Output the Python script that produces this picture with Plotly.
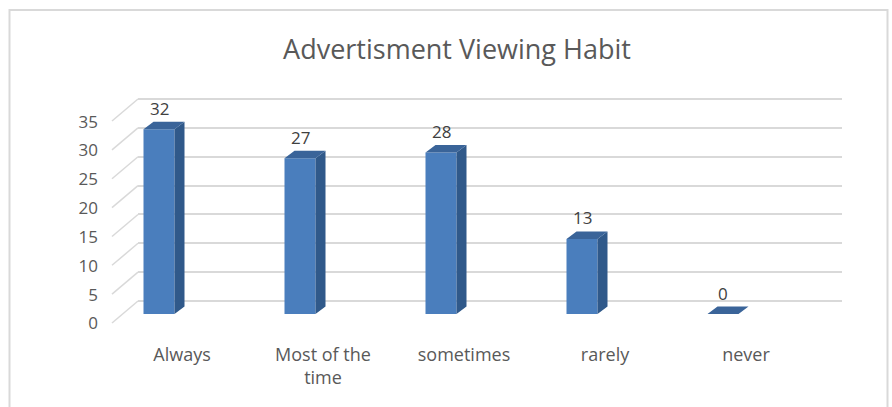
import plotly.graph_objects as go

# ---- data ----
categories = ["Always", "Most of the<br>time", "sometimes", "rarely", "never"]
counts = [32, 27, 28, 13, 0]
tick_values = [0, 5, 10, 15, 20, 25, 30, 35]
title_text = "Advertisment Viewing Habit"

# ---- geometry (pixels) ----
W, H = 892, 407
PX_L, PX_R = 138, 842      # back-wall width
PX_T, PX_B = 90, 330       # plot area top / bottom
SLOT = 141                 # pixels per category
X0_PX = 159                # centre of first category
BASE_PX = 314              # floor line under the bars
PPU = 5.77                 # pixels per value unit
WALL_LIFT = 13             # back wall sits this far above the bar base
FRONT_DROP = 22            # floor front edge below the back wall

x_rng = [(PX_L - X0_PX) / SLOT, (PX_R - X0_PX) / SLOT]
bar_rng = [(BASE_PX - PX_B) / PPU, (BASE_PX - PX_T) / PPU]
grid_off = WALL_LIFT / PPU
grid_rng = [bar_rng[0] - grid_off, bar_rng[1] - grid_off]
lab_off = (FRONT_DROP + 0.5 - WALL_LIFT) / PPU
lab_rng = [bar_rng[0] + lab_off, bar_rng[1] + lab_off]

BAR_W = 31 / SLOT
DX = 10 / SLOT
DY = 7.5 / PPU

FRONT = "#4a7ebd"
SIDE = "#30598a"
TOP = "#3a6499"
TXT = "#595959"
FONT = "Open Sans"

xs = list(range(len(categories)))

# side and top faces of the 3-D columns
side_x, side_y, top_x, top_y = [], [], [], []
for i, v in zip(xs, counts):
    r = i + BAR_W / 2
    l = i - BAR_W / 2
    side_x += [r, r + DX, r + DX, r, r, None]
    side_y += [0, DY, v + DY, v, 0, None]
    top_x += [l, l + DX, r + DX, r, l, None]
    top_y += [v, v + DY, v + DY, v, v, None]

fig = go.Figure()
fig.add_trace(go.Bar(x=xs, y=counts, width=BAR_W, marker=dict(color=FRONT, line=dict(width=0)),
                     yaxis="y2", hoverinfo="skip"))
fig.add_trace(go.Scatter(x=side_x, y=side_y, mode="lines", fill="toself", fillcolor=SIDE,
                         line=dict(width=0, color=SIDE), yaxis="y2", hoverinfo="skip"))
fig.add_trace(go.Scatter(x=top_x, y=top_y, mode="lines", fill="toself", fillcolor=TOP,
                         line=dict(width=0, color=TOP), yaxis="y2", hoverinfo="skip"))
# invisible trace so the label axis is drawn
fig.add_trace(go.Scatter(x=[None], y=[None], yaxis="y3", showlegend=False))

# value labels above each column
for i, v in zip(xs, counts):
    fig.add_annotation(x=i, y=v, yref="y2", text=str(v), showarrow=False,
                       yanchor="middle", yshift=21,
                       font=dict(family=FONT, size=17, color="#404040"))

# slanted side-wall grid lines
shapes = []
for v in tick_values:
    shapes.append(dict(type="line", xref="paper", yref="y",
                       x0=112 / W, y0=v - FRONT_DROP / PPU, x1=PX_L / W, y1=v,
                       line=dict(color="#d9d9d9", width=1.5)))
# chart border
shapes.append(dict(type="rect", xref="paper", yref="paper",
                   x0=9.5 / W, x1=887.5 / W, y0=-0.1, y1=1 - 10 / H,
                   line=dict(color="#d9d9d9", width=2)))

fig.update_layout(
    width=W, height=H,
    margin=dict(l=0, r=0, t=0, b=0),
    paper_bgcolor="white", plot_bgcolor="white",
    showlegend=False,
    shapes=shapes,
    title=dict(text=title_text, x=457 / W, xanchor="center", y=1 - 50 / H, yanchor="middle",
               font=dict(family=FONT, size=27, color=TXT)),
    xaxis=dict(domain=[PX_L / W, PX_R / W], range=x_rng, tickvals=xs, ticktext=categories,
               showgrid=False, zeroline=False, showline=False, ticks="",
               ticklabelshift=23, ticklabelstandoff=12,
               tickfont=dict(family=FONT, size=18, color=TXT), automargin=False),
    yaxis=dict(domain=[1 - PX_B / H, 1 - PX_T / H], range=grid_rng, tickvals=tick_values,
               showticklabels=False, showgrid=True, gridcolor="#d9d9d9", gridwidth=1.5,
               zeroline=False, showline=False, ticks="", automargin=False),
    yaxis2=dict(overlaying="y", range=bar_rng, visible=False, showgrid=False, zeroline=False),
    yaxis3=dict(overlaying="y", anchor="free", position=98 / W, range=lab_rng,
                tickvals=tick_values, showgrid=False, zeroline=False, showline=False, ticks="",
                tickfont=dict(family=FONT, size=17, color=TXT), automargin=False),
)

fig.write_html("out.html")
